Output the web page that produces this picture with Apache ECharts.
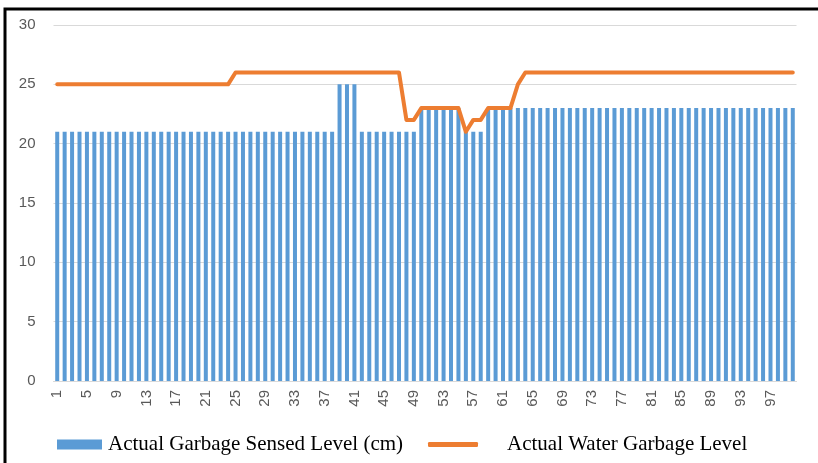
<!DOCTYPE html>
<html>
<head>
<meta charset="utf-8">
<script src="https://cdn.jsdelivr.net/npm/echarts@6/dist/echarts.min.js"></script>
<style>
  html, body { margin: 0; padding: 0; background: #fff; }
  #chart { width: 818px; height: 463px; }
</style>
</head>
<body>
<div id="chart"></div>
<script>
// Sample numbers 1..100
const categories = [];
for (let i = 1; i <= 100; i++) categories.push(String(i));

// Sensed garbage level per sample (cm)
const sensedLevel = [
  21,21,21,21,21,21,21,21,21,21,
  21,21,21,21,21,21,21,21,21,21,
  21,21,21,21,21,21,21,21,21,21,
  21,21,21,21,21,21,21,21,25,25,
  25,21,21,21,21,21,21,21,21,23,
  23,23,23,23,23,21,21,21,23,23,
  23,23,23,23,23,23,23,23,23,23,
  23,23,23,23,23,23,23,23,23,23,
  23,23,23,23,23,23,23,23,23,23,
  23,23,23,23,23,23,23,23,23,23
];

// Actual water garbage level per sample
const waterLevel = [
  25,25,25,25,25,25,25,25,25,25,
  25,25,25,25,25,25,25,25,25,25,
  25,25,25,25,26,26,26,26,26,26,
  26,26,26,26,26,26,26,26,26,26,
  26,26,26,26,26,26,26,22,22,23,
  23,23,23,23,23,21,22,22,23,23,
  23,23,25,26,26,26,26,26,26,26,
  26,26,26,26,26,26,26,26,26,26,
  26,26,26,26,26,26,26,26,26,26,
  26,26,26,26,26,26,26,26,26,26
];

const yTicks = [0, 5, 10, 15, 20, 25, 30];

const seriesNames = ['Actual Garbage Sensed Level (cm)', 'Actual Water Garbage Level'];

const chart = echarts.init(document.getElementById('chart'), null, { renderer: 'canvas' });

const legendText = {
  fontFamily: 'Liberation Serif, Times New Roman, serif',
  fontSize: 21,
  color: '#000'
};

chart.setOption({
  animation: false,
  backgroundColor: '#fff',
  grid: { left: 53.5, right: 21.5, top: 25, bottom: 82, containLabel: false },
  xAxis: {
    type: 'category',
    data: categories,
    boundaryGap: true,
    axisLine: { show: true, lineStyle: { color: '#D9D9D9', width: 1 } },
    axisTick: { show: false },
    axisLabel: {
      interval: 3,
      rotate: 90,
      margin: 9,
      color: '#595959',
      fontFamily: 'Liberation Sans, Arial, sans-serif',
      fontSize: 15
    },
    splitLine: { show: false }
  },
  yAxis: {
    type: 'value',
    min: yTicks[0],
    max: yTicks[yTicks.length - 1],
    interval: 5,
    axisLine: { show: false },
    axisTick: { show: false },
    axisLabel: {
      margin: 18,
      color: '#595959',
      fontFamily: 'Liberation Sans, Arial, sans-serif',
      fontSize: 15
    },
    splitLine: { lineStyle: { color: '#D9D9D9', width: 1 } }
  },
  legend: [
    {
      data: [{ name: seriesNames[0], icon: 'rect' }],
      left: 52,
      top: 429,
      itemWidth: 45,
      itemHeight: 10,
      textStyle: Object.assign({ padding: [0, 0, 0, 1] }, legendText)
    },
    {
      data: [{ name: seriesNames[1], icon: 'roundRect' }],
      left: 423,
      top: 429,
      itemWidth: 50,
      itemHeight: 5,
      textStyle: Object.assign({ padding: [0, 0, 0, 24] }, legendText)
    }
  ],
  series: [
    {
      name: seriesNames[0],
      type: 'bar',
      data: sensedLevel,
      barWidth: 4,
      itemStyle: { color: '#5B9BD5' }
    },
    {
      name: seriesNames[1],
      type: 'line',
      data: waterLevel,
      symbol: 'none',
      lineStyle: { color: '#ED7D31', width: 4, cap: 'round', join: 'round' },
      itemStyle: { color: '#ED7D31' }
    }
  ],
  graphic: [
    {
      type: 'rect',
      shape: { x: 5, y: 9, width: 900, height: 600 },
      style: { fill: 'none', stroke: '#000', lineWidth: 3 },
      silent: true
    }
  ]
});
</script>
</body>
</html>
